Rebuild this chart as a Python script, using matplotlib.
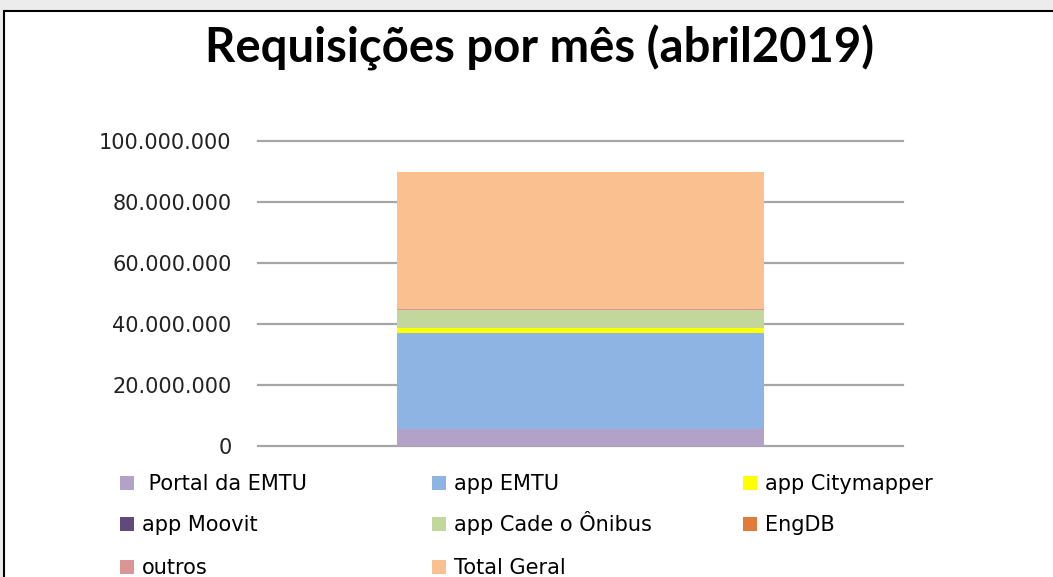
import matplotlib.pyplot as plt
from matplotlib.patches import Rectangle
from matplotlib.ticker import FuncFormatter

# dados (em requisicoes)
series = ['Portal da EMTU', 'app EMTU', 'app Citymapper', 'app Moovit',
          'app Cade o Ônibus', 'EngDB', 'outros', 'Total Geral']
valores = [5500000, 31600000, 1700000, 50000, 5600000, 100000, 400000, 44950000]
cores = ['#b3a2c7', '#8eb4e3', '#ffff00', '#604a7b',
         '#c3d69b', '#e07b39', '#d99694', '#fac090']
categoria = ['abril2019']
yticks = [0, 20000000, 40000000, 60000000, 80000000, 100000000]

plt.rcParams['font.family'] = ['DejaVu Sans']

W, H = 1053, 577
fig = plt.figure(figsize=(W / 100, H / 100), dpi=100, facecolor='#ececec')

# moldura do grafico
fig.patches.append(Rectangle((4 / W, -0.05), 1.1, 1.05 - 11 / H,
                             transform=fig.transFigure, facecolor='white',
                             edgecolor='black', linewidth=1.5, zorder=-10))

ax = fig.add_axes([258 / W, 1 - 446 / H, 645 / W, 305 / H])
ax.set_facecolor('none')

base = 0
barras = []
for nome, v, c in zip(series, valores, cores):
    b = ax.bar(categoria, [v], bottom=[base], width=0.57, color=c,
               label=nome, zorder=3)
    barras.append(b)
    base += v

ax.set_xlim(-0.5, 0.5)
ax.set_ylim(0, 100000000)
ax.set_yticks(yticks)
ax.yaxis.set_major_formatter(FuncFormatter(lambda v, p: f'{int(v):,}'.replace(',', '.')))
ax.grid(axis='y', color='#a6a6a6', linewidth=1.6, zorder=0)
for gl in ax.get_ygridlines():
    gl.set_clip_on(False)
ax.set_xticks([])
for s in ax.spines.values():
    s.set_visible(False)
ax.tick_params(axis='y', length=0, pad=19, labelsize=15, labelcolor='#222222')

fig.text(0.512, 1 - 48 / H, 'Requisições por mês (abril2019)', ha='center', va='center',
         fontsize=34, fontweight='bold', family='Lato')

# legenda: uma entrada por posicao (3 colunas x 3 linhas)
col_x = [120, 432, 743]
row_y = [482, 523, 566]
for i, (b, nome) in enumerate(zip(barras, series)):
    r, c = divmod(i, 3)
    lbl = (' ' if i == 0 else '') + nome
    fig.legend([b], [lbl], loc='lower left',
               bbox_to_anchor=(col_x[c] / W, 1 - (row_y[r] + 12) / H), frameon=False,
               fontsize=15, handlelength=0.65, handleheight=0.65,
               handletextpad=0.4, borderpad=0, borderaxespad=0)

fig.savefig('out.png', dpi=100, facecolor=fig.get_facecolor())
